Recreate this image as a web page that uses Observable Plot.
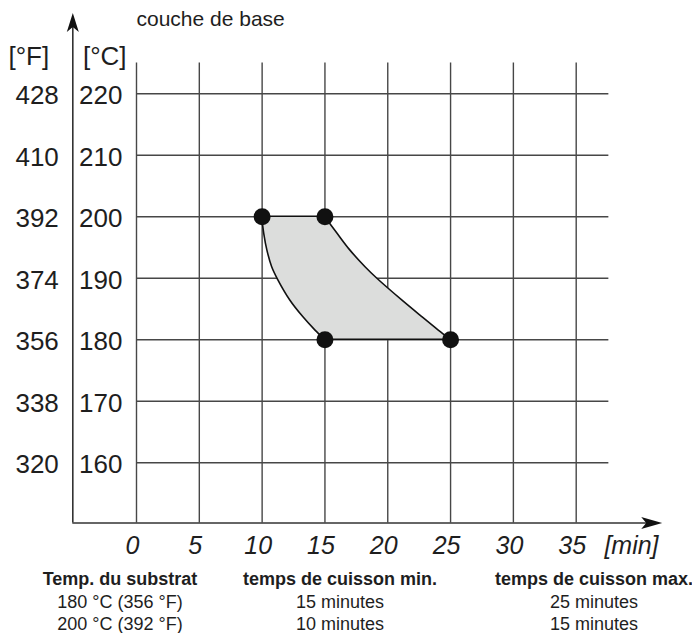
<!DOCTYPE html>
<html>
<head>
<meta charset="utf-8">
<script src="https://cdn.jsdelivr.net/npm/d3@7"></script>
<script src="https://cdn.jsdelivr.net/npm/@observablehq/plot@0.6"></script>
<style>
  body { margin: 0; background: #fff; font-family: "Liberation Sans", Arial, sans-serif; }
  #wrap { position: relative; width: 692px; height: 633px; overflow: hidden; background: #fff; }
  #chart svg { display: block; }
  .col { position: absolute; top: 568px; width: 280px; text-align: center; font-size: 18px; line-height: 22.5px; color: #1e1e1e; }
  .col .h { font-weight: bold; }
</style>
</head>
<body>
<div id="wrap">
  <div id="chart"></div>
</div>
<script>
// ---- data ----
const minuteTicks = [0, 5, 10, 15, 20, 25, 30, 35];
const celsiusTicks = [160, 170, 180, 190, 200, 210, 220];
const fahrenheitTicks = ["320", "338", "356", "374", "392", "410", "428"];

// curved band (baking window): temperature rows with min / max baking time
const bandTemp    = [200, 197.2, 194.5, 191.8, 189.8, 186.4, 183.7, 181.5, 180];
const minTimeEdge = [10, 10.17, 10.42, 10.8, 11.26, 12.24, 13.27, 14.25, 15];
const maxTimeEdge = [15, 16.02, 17.03, 18.23, 19.24, 21.15, 22.74, 24.06, 25];

const cornerMin  = [10, 15, 15, 25];
const cornerTemp = [200, 200, 180, 180];

const titleText = "couche de base";
const unitF = "[°F]", unitC = "[°C]", unitMin = "[min]";

const tableHeaders = ["Temp. du substrat", "temps de cuisson min.", "temps de cuisson max."];
const substrateTemps = ["180 °C (356 °F)", "200 °C (392 °F)"];
const minTimes = ["15 minutes", "10 minutes"];
const maxTimes = ["25 minutes", "15 minutes"];

// ---- layout constants (in data units) ----
const axisMin = -5.07, axisTemp = 150.2;
const gridTopTemp = 225, gridRightMin = 37.6;
const yArrowTemp = 231.5, xArrowMin = 40.97;

const band = bandTemp.map((t, i) => ({t, lo: minTimeEdge[i], hi: maxTimeEdge[i]}));
const corners = cornerMin.map((m, i) => ({m, t: cornerTemp[i]}));
const ticksC = celsiusTicks.map((c, i) => ({c, f: fahrenheitTicks[i]}));

const gridColor = "#474747";
const axisColor = "#333";
const textColor = "#1e1e1e";

const arrowUp = {draw(ctx) { ctx.moveTo(0, -10); ctx.lineTo(6, 9); ctx.lineTo(0, 4); ctx.lineTo(-6, 9); ctx.closePath(); }};
const arrowRight = {draw(ctx) { ctx.moveTo(11, 0); ctx.lineTo(-10, 6); ctx.lineTo(-5, 0); ctx.lineTo(-10, -6); ctx.closePath(); }};

const plot = Plot.plot({
  width: 692,
  height: 562,
  margin: 0,
  x: {domain: [0, 35], range: [136, 575.7], axis: null},
  y: {domain: [160, 220], range: [462.3, 93.3], axis: null},
  style: {fontFamily: "'Liberation Sans', Arial, sans-serif", background: "#fff", color: textColor},
  marks: [
    // grid
    Plot.ruleX(minuteTicks, {x: d => d, y1: axisTemp, y2: gridTopTemp, stroke: gridColor, strokeWidth: 1.4}),
    Plot.ruleY(celsiusTicks, {y: d => d, x1: 0, x2: gridRightMin, stroke: gridColor, strokeWidth: 1.4}),
    // band
    Plot.areaX(band, {y: "t", x1: "lo", x2: "hi", curve: "catmull-rom", fill: "#dcdddc", stroke: "#111", strokeWidth: 1.6}),
    Plot.dot(corners, {x: "m", y: "t", r: 8.5, fill: "#111", stroke: "none"}),
    // axes
    Plot.ruleX([axisMin], {x: d => d, y1: axisTemp, y2: yArrowTemp, stroke: axisColor, strokeWidth: 1.6}),
    Plot.ruleY([axisTemp], {y: d => d, x1: axisMin, x2: xArrowMin, stroke: axisColor, strokeWidth: 1.6}),
    Plot.dot([0], {x: axisMin, y: yArrowTemp, symbol: arrowUp, fill: "#111", stroke: "none"}),
    Plot.dot([0], {x: xArrowMin, y: axisTemp, symbol: arrowRight, fill: "#111", stroke: "none"}),
    // tick labels
    Plot.text(ticksC, {x: 0, y: "c", text: d => String(d.c), textAnchor: "end", dx: -14, dy: 2, fontSize: 26, fill: textColor}),
    Plot.text(ticksC, {x: axisMin, y: "c", text: "f", textAnchor: "end", dx: -14, dy: 2, fontSize: 26, fill: textColor}),
    Plot.text(minuteTicks, {x: d => d, y: axisTemp, text: d => String(d), dy: 23, dx: -4, fontSize: 25, fontStyle: "italic", fill: textColor}),
    Plot.text([unitMin], {x: 39.4, y: axisTemp, text: d => d, dy: 23, fontSize: 25, fontStyle: "italic", fill: textColor}),
    // unit labels and title
    Plot.text([unitC], {x: -2.53, y: 226.1, text: d => d, fontSize: 26, fill: textColor}),
    Plot.text([unitF], {x: -8.57, y: 226.1, text: d => d, fontSize: 26, fill: textColor}),
    Plot.text([titleText], {x: 0, y: 232.2, text: d => d, textAnchor: "start", fontSize: 21, fill: textColor})
  ]
});
document.getElementById("chart").appendChild(plot);

// bottom table
const wrap = document.getElementById("wrap");
const columns = [
  {center: 120, header: tableHeaders[0], rows: substrateTemps},
  {center: 340, header: tableHeaders[1], rows: minTimes},
  {center: 594, header: tableHeaders[2], rows: maxTimes}
];
for (const c of columns) {
  const div = document.createElement("div");
  div.className = "col";
  div.style.left = (c.center - 140) + "px";
  const h = document.createElement("div");
  h.className = "h";
  h.textContent = c.header;
  div.appendChild(h);
  for (const r of c.rows) {
    const d = document.createElement("div");
    d.textContent = r;
    div.appendChild(d);
  }
  wrap.appendChild(div);
}
</script>
</body>
</html>
